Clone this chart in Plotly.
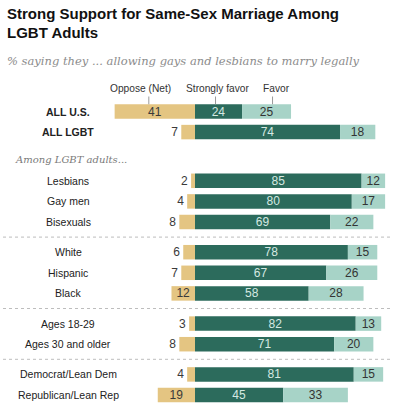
import plotly.graph_objects as go

# ---------------- data ----------------
categories = ["ALL U.S.", "ALL LGBT", "Lesbians", "Gay men", "Bisexuals",
              "White", "Hispanic", "Black", "Ages 18-29", "Ages 30 and older",
              "Democrat/Lean Dem", "Republican/Lean Rep"]
groups = [0, 0, 1, 1, 1, 2, 2, 2, 3, 3, 4, 4]
oppose = [41, 7, 2, 4, 8, 6, 7, 12, 3, 8, 4, 19]
strongly = [24, 74, 85, 80, 69, 78, 67, 58, 82, 71, 81, 45]
favor = [25, 18, 12, 17, 22, 15, 26, 28, 13, 20, 15, 33]
series_names = ["Oppose (Net)", "Strongly favor", "Favor"]
bold_rows = ["ALL U.S.", "ALL LGBT"]

title_lines = ["Strong Support for Same-Sex Marriage Among", "LGBT Adults"]
subtitle = "% saying they ... allowing gays and lesbians to marry legally"
among_label = "Among LGBT adults..."

# ---------------- style ----------------
W, H = 395, 416
TAN = "#e4c582"
DARK = "#2c6b5c"
LIGHT = "#a7d3c7"
SANS = "Liberation Sans, Arial, sans-serif"
SERIF = "DejaVu Serif, Georgia, serif"

ROW0 = 111.5
ROW_STEP = 20.6
GROUP_GAP = 9.6
AMONG_GAP = 18.5
BAR_H = 14.5
LABEL_X = 68
ZERO_PX = 195
PX_PER_UNIT = 1.96
HEADER_LABEL_SHIFT_PX = [-14, -1.5, 10]
HEADER_TICK_SHIFT_PX = [-6, -3, 6]

ypos = [ROW0 + i * ROW_STEP + g * GROUP_GAP + (AMONG_GAP if g > 0 else 0)
        for i, g in enumerate(groups)]

fig = go.Figure()

fig.add_trace(go.Bar(
    y=ypos, x=[-v for v in oppose], orientation="h", width=BAR_H,
    marker=dict(color=TAN, line=dict(width=0)), name=series_names[0],
    text=[str(v) for v in oppose],
    textposition=["inside" if v >= 10 else "outside" for v in oppose],
    insidetextanchor="middle", constraintext="none", textangle=0,
    insidetextfont=dict(family=SANS, size=12, color="#3a3a3a"),
    outsidetextfont=dict(family=SANS, size=12, color="#3a3a3a"),
    cliponaxis=False, hoverinfo="skip",
))
fig.add_trace(go.Bar(
    y=ypos, x=strongly, orientation="h", width=BAR_H,
    marker=dict(color=DARK, line=dict(width=0)), name=series_names[1],
    text=[str(v) for v in strongly], textposition="inside",
    insidetextanchor="middle", constraintext="none", textangle=0,
    insidetextfont=dict(family=SANS, size=12, color="#d5e9e2"),
    cliponaxis=False, hoverinfo="skip",
))
fig.add_trace(go.Bar(
    y=ypos, x=favor, orientation="h", width=BAR_H,
    marker=dict(color=LIGHT, line=dict(width=0)), name=series_names[2],
    text=[str(v) for v in favor], textposition="inside",
    insidetextanchor="middle", constraintext="none", textangle=0,
    insidetextfont=dict(family=SANS, size=12, color="#333333"),
    cliponaxis=False, hoverinfo="skip",
))

annotations = []
shapes = []

# title
for k, line in enumerate(title_lines):
    annotations.append(dict(
        text=f"<b>{line}</b>", xref="paper", yref="y", x=5 / W, y=13 + k * 19,
        xanchor="left", yanchor="middle", showarrow=False,
        font=dict(family=SANS, size=15, color="#111111")))
annotations.append(dict(
    text=f"<i>{subtitle}</i>", xref="paper", yref="y", x=5 / W, y=61,
    xanchor="left", yanchor="middle", showarrow=False,
    font=dict(family=SERIF, size=11.5, color="#8c8c8c")))

# header labels with ticks
centers = [-oppose[0] / 2, strongly[0] / 2, strongly[0] + favor[0] / 2]
for name, cx, ls, ts in zip(series_names, centers, HEADER_LABEL_SHIFT_PX,
                            HEADER_TICK_SHIFT_PX):
    annotations.append(dict(
        text=name, xref="x", yref="y", x=cx + ls / PX_PER_UNIT, y=88,
        xanchor="center", yanchor="middle", showarrow=False,
        font=dict(family=SANS, size=10.2, color="#333333")))
    tx = cx + ts / PX_PER_UNIT
    shapes.append(dict(type="line", xref="x", yref="y", x0=tx, x1=tx,
                       y0=96.5, y1=ypos[0] - BAR_H / 2,
                       line=dict(color="#999999", width=1)))

# category labels
for cat, y in zip(categories, ypos):
    txt = f"<b>{cat}</b>" if cat in bold_rows else cat
    annotations.append(dict(
        text=txt, xref="paper", yref="y", x=LABEL_X / W, y=y,
        xanchor="center", yanchor="middle", showarrow=False,
        font=dict(family=SANS, size=10.5, color="#222222")))

# among label
first_sub = groups.index(1)
annotations.append(dict(
    text=f"<i>{among_label}</i>", xref="paper", yref="y", x=13 / W,
    y=ypos[first_sub] - 21, xanchor="left", yanchor="middle", showarrow=False,
    font=dict(family=SERIF, size=10, color="#7a7a7a")))

# separators between groups (after the first subgroup)
for i in range(1, len(groups)):
    if groups[i] != groups[i - 1] and groups[i - 1] >= 1:
        ysep = (ypos[i - 1] + ypos[i]) / 2
        shapes.append(dict(type="line", xref="paper", yref="y",
                           x0=3 / W, x1=390 / W, y0=ysep, y1=ysep,
                           line=dict(color="#bdbdbd", width=1, dash="dot")))

fig.update_layout(
    width=W, height=H, margin=dict(l=0, r=0, t=0, b=0),
    paper_bgcolor="white", plot_bgcolor="white",
    barmode="relative", showlegend=False, hovermode=False,
    xaxis=dict(range=[-ZERO_PX / PX_PER_UNIT, (W - ZERO_PX) / PX_PER_UNIT],
               visible=False, fixedrange=True),
    yaxis=dict(range=[H, 0], visible=False, fixedrange=True),
    annotations=annotations, shapes=shapes,
)

fig.write_html("out.html",
               config={"displayModeBar": False, "staticPlot": True},
               post_script="document.body.style.margin='0px';"
                           "document.body.style.overflow='hidden';")
